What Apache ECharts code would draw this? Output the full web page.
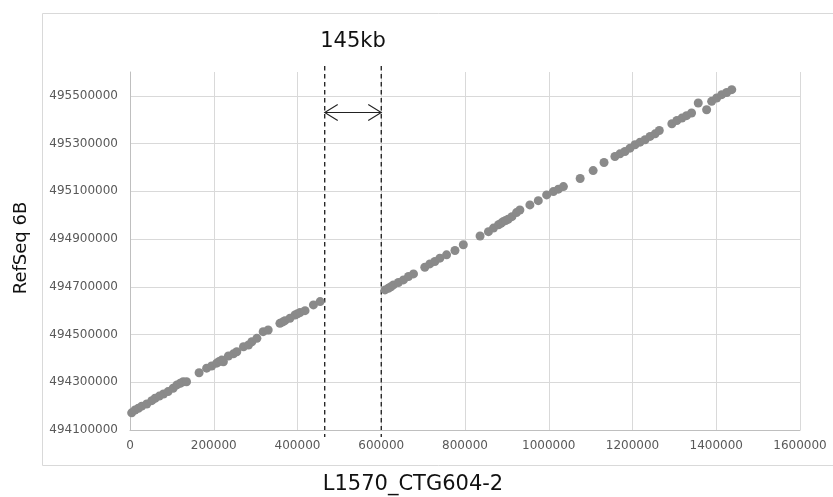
<!DOCTYPE html>
<html>
<head>
<meta charset="utf-8">
<script src="https://cdn.jsdelivr.net/npm/echarts@6/dist/echarts.min.js"></script>
<style>
html,body{margin:0;padding:0;background:#fff;}
#chart{width:833px;height:497px;}
</style>
</head>
<body>
<div id="chart"></div>
<script>
// Position on L1570_CTG604-2 (x) vs RefSeq 6B (y)
var xValues = [
  4000, 12000, 20000, 28000, 40000, 52000, 60000, 70000, 80000, 91000, 103000, 112000, 120000, 127000, 135000,
  165000, 183000, 195000, 207000, 213000, 219000, 223000, 235000, 247000, 255000, 271000, 283000, 291000, 303000,
  318000, 330000, 358000, 365000, 370000, 382000, 394000, 400000, 406000, 418000, 438000, 454000,
  609000, 617000, 623000, 629000, 641000, 653000, 665000, 677000, 704000, 716000, 728000, 740000, 756000, 776000, 796000,
  836000, 856000, 868000, 880000, 886000, 891000, 897000, 903000, 912000, 923000, 931000, 955000, 975000, 995000,
  1011000, 1023000, 1035000, 1075000, 1106000, 1132000, 1158000, 1170000, 1182000, 1194000, 1206000, 1218000,
  1230000, 1242000, 1254000, 1264000, 1294000, 1306000, 1318000, 1329000, 1341000, 1357000, 1377000, 1389000,
  1401000, 1413000, 1425000, 1437000
];
var yValues = [
  494172000, 494184000, 494191000, 494200000, 494209000, 494223000, 494233000, 494242000, 494251000, 494261000, 494275000, 494289000, 494296000, 494302000, 494302000,
  494340000, 494359000, 494368000, 494380000, 494387000, 494393000, 494386000, 494410000, 494419000, 494428000, 494449000, 494456000, 494470000, 494484000,
  494512000, 494519000, 494547000, 494553000, 494558000, 494568000, 494582000, 494587000, 494592000, 494600000, 494624000, 494638000,
  494687000, 494694000, 494700000, 494708000, 494718000, 494729000, 494743000, 494754000, 494782000, 494796000, 494806000, 494820000, 494834000, 494852000, 494876000,
  494913000, 494931000, 494946000, 494960000, 494966000, 494973000, 494978000, 494983000, 494994000, 495011000, 495022000, 495043000, 495061000, 495085000,
  495099000, 495109000, 495120000, 495154000, 495187000, 495221000, 495246000, 495257000, 495267000, 495281000, 495295000, 495306000,
  495316000, 495330000, 495341000, 495355000, 495383000, 495397000, 495407000, 495417000, 495428000, 495470000, 495442000, 495477000,
  495491000, 495505000, 495514000, 495526000
];
var xTicks = [0, 200000, 400000, 600000, 800000, 1000000, 1200000, 1400000, 1600000];
var yTicks = [494100000, 494300000, 494500000, 494700000, 494900000, 495100000, 495300000, 495500000];
var gapStart = 465000;
var gapEnd = 600000;
var arrowY = 495430000;
var gapLabel = '145kb';
var xName = 'L1570_CTG604-2';
var yName = 'RefSeq 6B';

var points = xValues.map(function (x, i) { return [x, yValues[i]]; });

var chart = echarts.init(document.getElementById('chart'), null, {renderer: 'canvas'});
var FONT = 'DejaVu Sans';
function plain(v) { return String(Math.round(v)); }
chart.setOption({
  animation: false,
  backgroundColor: '#ffffff',
  grid: {left: 130, right: 33, top: 72, bottom: 67, containLabel: false, outerBoundsMode: 'none'},
  xAxis: {
    type: 'value',
    min: xTicks[0], max: xTicks[xTicks.length - 1], interval: 200000,
    name: xName, nameLocation: 'middle', nameGap: 44,
    nameTextStyle: {fontFamily: FONT, fontSize: 21, color: '#111', padding: [0, 104, 0, 0]},
    axisLine: {show: true, lineStyle: {color: '#bfbfbf', width: 1}},
    axisTick: {show: false},
    axisLabel: {fontFamily: FONT, fontSize: 12, color: '#595959', margin: 10, formatter: plain},
    splitLine: {show: true, lineStyle: {color: '#d9d9d9', width: 1}}
  },
  yAxis: {
    type: 'value',
    min: yTicks[0], max: 495600000, interval: 200000,
    name: yName, nameLocation: 'middle', nameGap: 100,
    nameTextStyle: {fontFamily: FONT, fontSize: 18, color: '#111', padding: [0, 0, 0, 6]},
    axisLine: {show: true, lineStyle: {color: '#bfbfbf', width: 1}},
    axisTick: {show: false},
    axisLabel: {fontFamily: FONT, fontSize: 12, color: '#595959', margin: 12, showMaxLabel: false, formatter: plain},
    splitLine: {show: true, showMaxLine: false, lineStyle: {color: '#d9d9d9', width: 1}}
  },
  series: [{
    type: 'scatter',
    data: points,
    symbol: 'circle',
    symbolSize: 9,
    itemStyle: {color: '#8a8a8a', opacity: 1},
    silent: true
  }]
});

function px(v) { return chart.convertToPixel({gridIndex: 0}, v); }
var pA = px([gapStart, arrowY]);
var pB = px([gapEnd, arrowY]);
var topPx = px([0, 495600000])[1];
var botPx = px([0, yTicks[0]])[1];
var x1 = pA[0], x2 = pB[0], ay = pA[1];
var dashStyle = {stroke: '#1a1a1a', lineWidth: 1.3, lineDash: [4.5, 3.5]};
var arrStyle = {stroke: '#222', lineWidth: 1.1, fill: null};
chart.setOption({
  graphic: [
    {type: 'rect', shape: {x: 42.5, y: 13.5, width: 900, height: 452}, style: {stroke: '#d9d9d9', lineWidth: 1, fill: null}, silent: true, z: 0},
    {type: 'line', shape: {x1: x1, y1: topPx - 6, x2: x1, y2: botPx + 7}, style: dashStyle, silent: true},
    {type: 'line', shape: {x1: x2, y1: topPx - 6, x2: x2, y2: botPx + 7}, style: dashStyle, silent: true},
    {type: 'line', shape: {x1: x1, y1: ay, x2: x2, y2: ay}, style: arrStyle, silent: true},
    {type: 'polyline', shape: {points: [[x1 + 13, ay - 8], [x1, ay], [x1 + 13, ay + 8]]}, style: arrStyle, silent: true},
    {type: 'polyline', shape: {points: [[x2 - 13, ay - 8], [x2, ay], [x2 - 13, ay + 8]]}, style: arrStyle, silent: true},
    {type: 'text', x: (x1 + x2) / 2, y: topPx - 30, style: {text: gapLabel, fontFamily: FONT, fontSize: 21, fill: '#111', textAlign: 'center', textVerticalAlign: 'middle'}, silent: true}
  ]
});
</script>
</body>
</html>
